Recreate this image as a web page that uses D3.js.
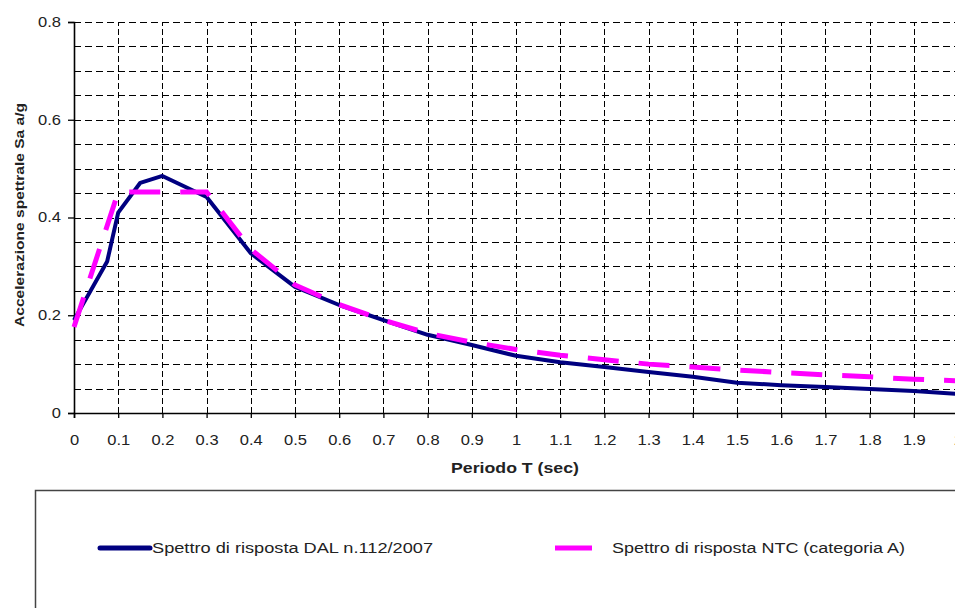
<!DOCTYPE html>
<html><head><meta charset="utf-8">
<script src="https://cdn.jsdelivr.net/npm/d3@7"></script>
<style>body{margin:0;background:#fff;} svg{display:block;font-family:Arial,"Liberation Sans",sans-serif;}</style>
</head><body>
<svg id="c" width="955" height="608"></svg>
<script>
const dalT =   [0, 0.075, 0.1, 0.15, 0.2, 0.3, 0.4, 0.5, 0.6, 0.7, 0.8, 0.9, 1.0, 1.1, 1.2, 1.3, 1.4, 1.5, 1.6, 1.7, 1.8, 1.9, 2.0];
const dalSa =  [0.19, 0.31, 0.41, 0.471, 0.485, 0.442, 0.327, 0.258, 0.221, 0.19, 0.16, 0.139, 0.117, 0.104, 0.094, 0.084, 0.074, 0.062, 0.057, 0.053, 0.049, 0.045, 0.039];
const ntcT =   [0, 0.1, 0.3, 0.4, 0.5, 0.6, 0.7, 0.8, 0.9, 1.0, 1.1, 1.2, 1.3, 1.4, 1.5, 1.6, 1.7, 1.8, 1.9, 2.0];
const ntcSa =  [0.176, 0.452, 0.452, 0.335, 0.262, 0.222, 0.19, 0.163, 0.145, 0.13, 0.118, 0.109, 0.1, 0.094, 0.088, 0.083, 0.078, 0.074, 0.069, 0.066];
const xTicks = [0,0.1,0.2,0.3,0.4,0.5,0.6,0.7,0.8,0.9,1,1.1,1.2,1.3,1.4,1.5,1.6,1.7,1.8,1.9,2];
const yTicks = [0,0.2,0.4,0.6,0.8];
const yGrid = [0.05,0.1,0.15,0.2,0.25,0.3,0.35,0.4,0.45,0.5,0.55,0.6,0.65,0.7,0.75,0.8];
const seriesNames = ["Spettro di risposta DAL n.112/2007","Spettro di risposta NTC (categoria A)"];

const svg = d3.select("#c");
const x = d3.scaleLinear().domain([0,2]).range([74,958]);
const y = d3.scaleLinear().domain([0,0.8]).range([413,22]);
const stretch = 1.18;
function widen(sel){ sel.each(function(){ const w=this.getComputedTextLength(); if(w>0){ d3.select(this).attr("textLength",w*stretch).attr("lengthAdjust","spacingAndGlyphs"); } }); }

// grid
svg.append("g").selectAll("line").data(yGrid).join("line")
  .attr("x1",x(0)).attr("x2",x(2)).attr("y1",d=>Math.round(y(d))+0.5).attr("y2",d=>Math.round(y(d))+0.5)
  .attr("stroke","#000").attr("stroke-width",1).attr("stroke-dasharray","7,4");
svg.append("g").selectAll("line").data(xTicks.slice(1)).join("line")
  .attr("x1",d=>Math.round(x(d))+0.5).attr("x2",d=>Math.round(x(d))+0.5).attr("y1",y(0)).attr("y2",y(0.8))
  .attr("stroke","#000").attr("stroke-width",1).attr("stroke-dasharray","6,3");

// axes
const xAxis = svg.append("g").attr("transform",`translate(0,${y(0)})`)
  .call(d3.axisBottom(x).tickValues(xTicks).tickFormat(d=>String(d)).tickSize(5).tickPadding(17));
const yAxis = svg.append("g").attr("transform",`translate(${x(0)},0)`)
  .call(d3.axisLeft(y).tickValues(yTicks).tickFormat(d=>String(d)).tickSize(6).tickPadding(7));
[xAxis,yAxis].forEach(g=>{
  g.select(".domain").attr("stroke","#000").attr("stroke-width",1.6);
  g.selectAll(".tick line").attr("stroke","#000").attr("stroke-width",1.3);
  g.selectAll("text").attr("fill","#222").style("font-size","14px").style("font-family","Arial, 'Liberation Sans', sans-serif");
});
xAxis.selectAll(".tick text").call(widen);
yAxis.selectAll(".tick text").call(widen);

// lines
const line = d3.line().x(d=>x(d[0])).y(d=>y(d[1]));
svg.append("path").datum(dalT.map((t,i)=>[t,dalSa[i]]))
  .attr("d",line).attr("fill","none").attr("stroke","#000080").attr("stroke-width",4).attr("stroke-linejoin","round");
svg.append("path").datum(ntcT.map((t,i)=>[t,ntcSa[i]]))
  .attr("d",line).attr("fill","none").attr("stroke","#ff00ff").attr("stroke-width",5).attr("stroke-dasharray","31,20");

// titles
svg.append("text").attr("x",515).attr("y",473).attr("text-anchor","middle")
  .style("font-size","15px").style("font-weight","bold").attr("fill","#222").text("Periodo T (sec)").call(widen);
svg.append("text").attr("transform","translate(24,215) rotate(-90)").attr("text-anchor","middle")
  .style("font-size","13.5px").style("font-weight","bold").attr("fill","#222")
  .attr("textLength",224).attr("lengthAdjust","spacingAndGlyphs").text("Accelerazione spettrale Sa a/g");

// legend
svg.append("rect").attr("x",35.5).attr("y",490.5).attr("width",1000).attr("height",200)
  .attr("fill","none").attr("stroke","#444").attr("stroke-width",1.5);
svg.append("line").attr("x1",100).attr("x2",150).attr("y1",548).attr("y2",548)
  .attr("stroke","#000080").attr("stroke-width",5).attr("stroke-linecap","round");
svg.append("text").attr("x",152).attr("y",553).style("font-size","14px").attr("fill","#222")
  .attr("textLength",281).attr("lengthAdjust","spacingAndGlyphs").text(seriesNames[0]);
svg.append("line").attr("x1",555).attr("x2",592).attr("y1",548).attr("y2",548)
  .attr("stroke","#ff00ff").attr("stroke-width",5);
svg.append("text").attr("x",612).attr("y",553).style("font-size","14px").attr("fill","#222")
  .attr("textLength",293).attr("lengthAdjust","spacingAndGlyphs").text(seriesNames[1]);
</script>
</body></html>
